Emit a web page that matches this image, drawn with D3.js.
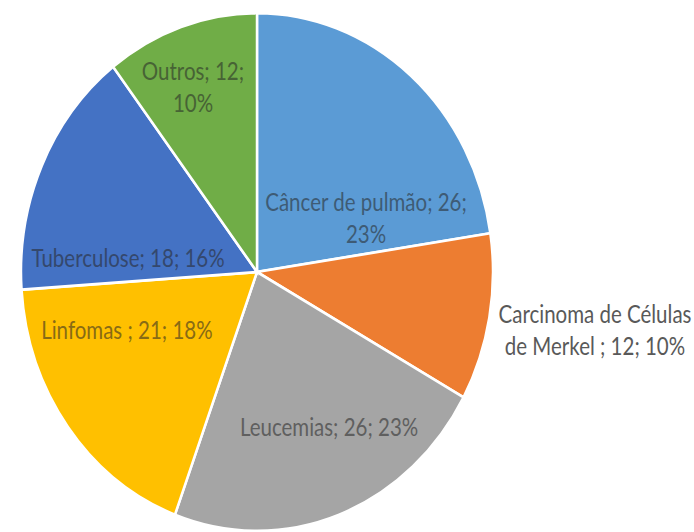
<!DOCTYPE html>
<html lang="pt">
<head>
<meta charset="UTF-8">
<title>Pie</title>
<script src="https://d3js.org/d3.v7.min.js"></script>
<style>
  body { margin: 0; background: #fff; }
  text { font-family: Lato, "Open Sans", sans-serif; }
</style>
</head>
<body>
<div id="chart"></div>
<script>
// data
const categories = ["Câncer de pulmão", "Carcinoma de Células de Merkel ", "Leucemias", "Linfomas ", "Tuberculose", "Outros"];
const values = [26, 12, 26, 21, 18, 12];
const percents = ["23%", "10%", "23%", "18%", "16%", "10%"];
const colors = ["#5B9BD5", "#ED7D31", "#A5A5A5", "#FFC000", "#4472C4", "#70AD47"];

// label layout: angle in degrees clockwise from top, radius as fraction of pie radius, lines
const labelLayout = [
  {ang: 65.7, r: 0.507, lines: d => [d.cat + "; " + d.val + ";", d.pct], inside: true},
  {ang: 99.0, r: 1.45, lines: () => ["Carcinoma de Células", "de Merkel ; 12; 10%"], inside: false},
  {ang: 153.1, r: 0.675, lines: d => [d.cat + "; " + d.val + "; " + d.pct], inside: true},
  {ang: 247.9, r: 0.595, lines: d => [d.cat + "; " + d.val + "; " + d.pct], inside: true},
  {ang: 275.7, r: 0.549, lines: d => [d.cat + "; " + d.val + "; " + d.pct], inside: true},
  {ang: 339.2, r: 0.764, lines: d => [d.cat + "; " + d.val + ";", d.pct], inside: true}
];

const W = 694, H = 532;
const cx = 257, cy = 272;
const radius = 236;
const stretch = 1.097;   // picture is squeezed sideways
const textStretch = 1.2;
const lineGap = 32;

const data = categories.map((c, i) => ({cat: c, val: values[i], pct: percents[i], color: colors[i]}));

const svg = d3.select("#chart").append("svg")
    .attr("width", W)
    .attr("height", H);

const pie = d3.pie().sort(null).value(d => d.val);
const arc = d3.arc().innerRadius(0).outerRadius(radius);
const arcs = pie(data);

const g = svg.append("g")
    .attr("transform", `translate(${cx},${cy}) scale(1,${stretch})`);

g.selectAll("path")
    .data(arcs)
    .join("path")
    .attr("d", arc)
    .attr("fill", d => d.data.color)
    .attr("stroke", "#fff")
    .attr("stroke-width", 2.5);

// labels
const labels = svg.append("g").attr("transform", `translate(${cx},${cy})`);
arcs.forEach((a, i) => {
  const L = labelLayout[i];
  const t = L.ang * Math.PI / 180;
  const x = Math.sin(t) * L.r * radius;
  const y = -Math.cos(t) * L.r * radius * stretch;
  const lines = L.lines(a.data);
  const fill = L.inside ? d3.interpolateRgb(a.data.color, "#262626")(0.55) : "#595959";
  const txt = labels.append("text")
      .attr("transform", `translate(${x},${y}) scale(1,${textStretch})`)
      .attr("text-anchor", "middle")
      .attr("font-size", 20.5)
      .attr("fill", fill);
  lines.forEach((s, k) => {
    txt.append("tspan")
        .attr("x", 0)
        .attr("y", ((k - (lines.length - 1) / 2) * lineGap) / textStretch)
        .attr("dy", "0.35em")
        .text(s);
  });
});
</script>
</body>
</html>
